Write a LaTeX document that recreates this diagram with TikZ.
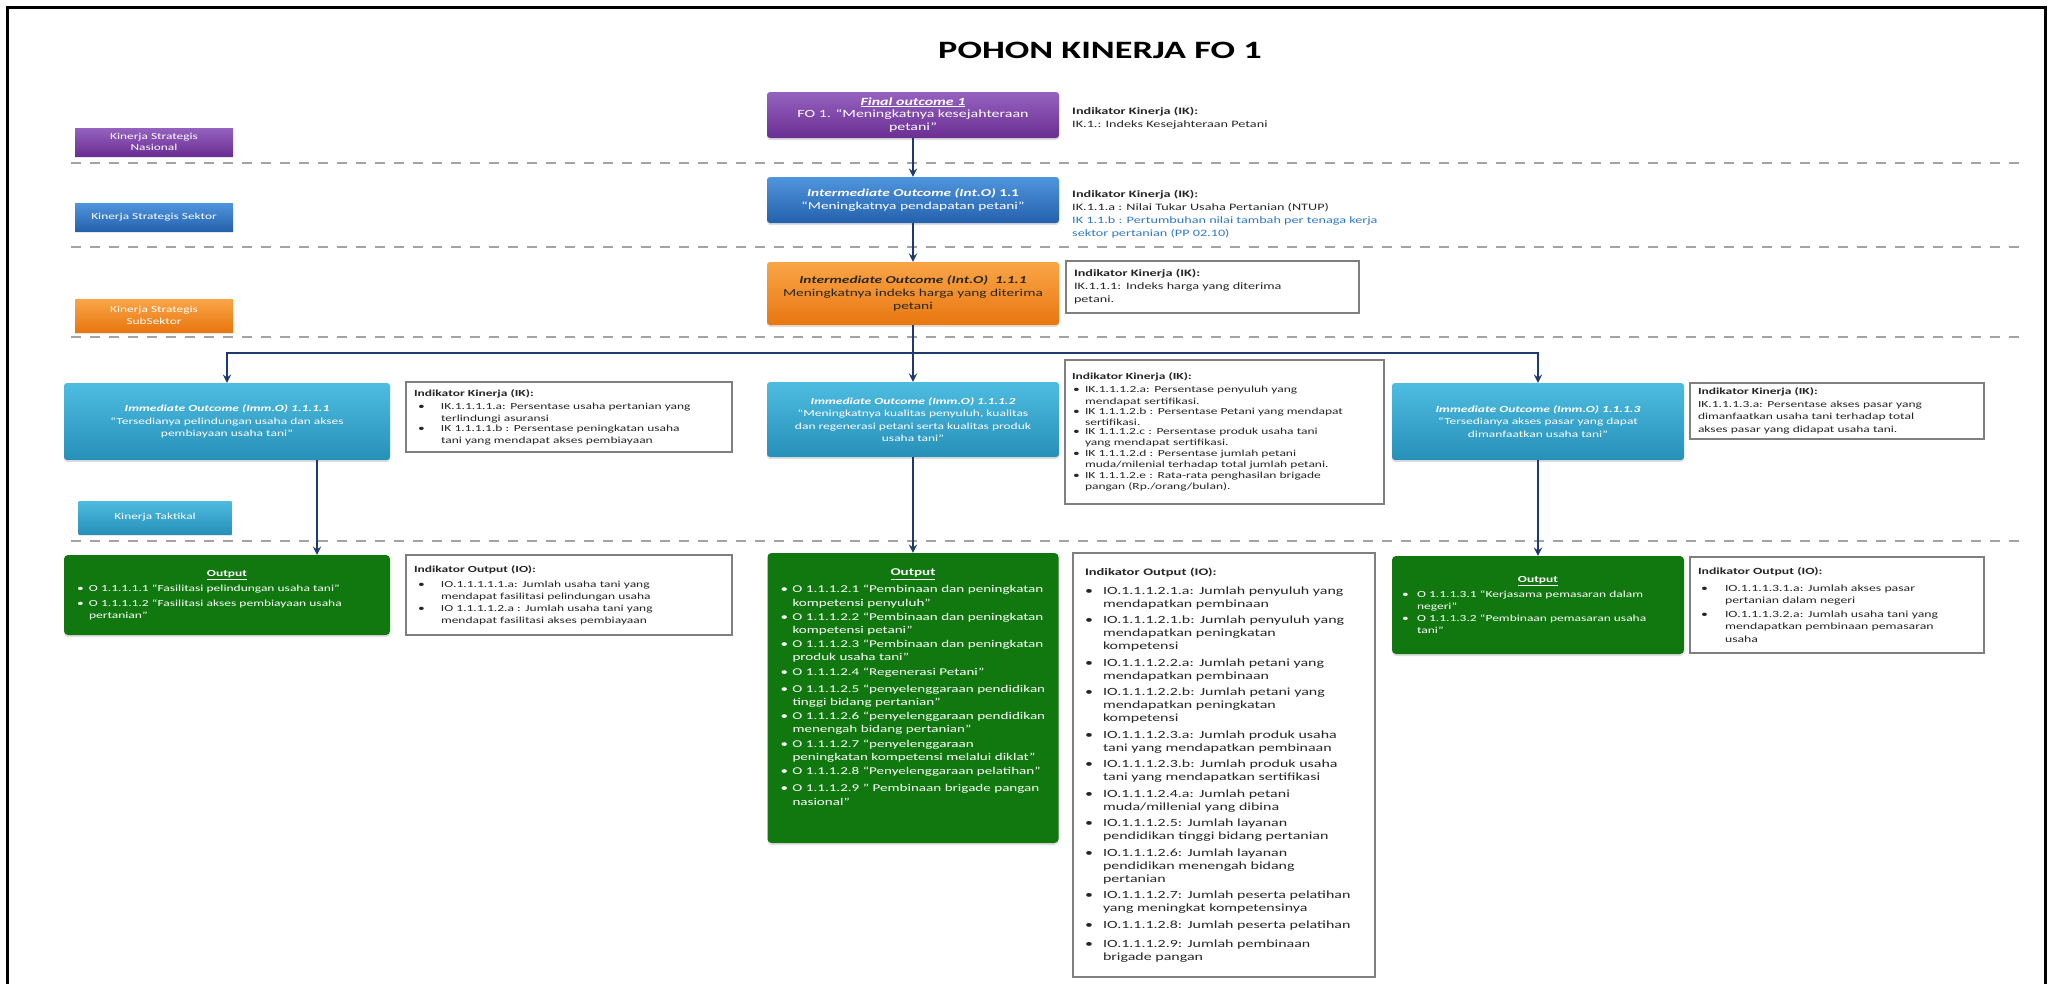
\documentclass[tikz,border=0pt]{standalone}
\usepackage{fontspec}
\setmainfont{Carlito}[FakeStretch=1.45]
\usetikzlibrary{shadows}
\definecolor{purA}{HTML}{9562BF}
\definecolor{purB}{HTML}{6B2E93}
\definecolor{bluA}{HTML}{4F95DD}
\definecolor{bluB}{HTML}{2561AD}
\definecolor{oraA}{HTML}{FAA548}
\definecolor{oraB}{HTML}{E8770F}
\definecolor{tealA}{HTML}{4EBCE1}
\definecolor{tealB}{HTML}{2790B8}
\definecolor{grn}{HTML}{10780F}
\definecolor{navy}{HTML}{1F3A70}
\definecolor{sepg}{HTML}{A3A3A3}
\definecolor{bd}{HTML}{7F7F7F}
\definecolor{tx}{HTML}{262626}
\definecolor{lblu}{HTML}{2F78C8}
\newcommand{\fs}[2]{\fontsize{#1}{#2}\selectfont}
\newlength{\bo}\newlength{\hi}
\newcommand{\itm}[1]{\par\noindent\hbox to\hi{\hskip\bo\textbullet\hfil}\parbox[t]{\dimexpr\hsize-\hi\relax}{\raggedright #1}}
\tikzset{lab/.style = {rectangle, text=white, align=center, font=\fs{9.2}{11.5}, minimum width=158pt, minimum height=28pt, inner sep=1pt,
                       drop shadow={opacity=0.2, shadow xshift=0pt, shadow yshift=-1.5pt}},
         cb/.style  = {rectangle, rounded corners=3pt, align=center, inner sep=2pt, text=white,
                       drop shadow={opacity=0.25, shadow xshift=0pt, shadow yshift=-2pt}},
         ind/.style = {rectangle, draw=bd, line width=1.2pt, fill=white, text=tx, align=left, inner xsep=8pt, inner ysep=3pt},
         ob/.style  = {rectangle, rounded corners=4pt, fill=grn, text=white, align=left, inner xsep=10pt, inner ysep=3pt,
                       drop shadow={opacity=0.25, shadow xshift=0pt, shadow yshift=-2pt}},
         txt/.style = {text=tx, align=left, inner sep=0pt},
         arr/.style = {->, draw=navy, line width=2.6pt},
         lvl/.style = {draw=sepg, line width=2pt, dash pattern=on 10pt off 9pt}}

\begin{document}
\begin{tikzpicture}[x=1pt, y=-1pt, >=stealth]
    \useasboundingbox (0,0) rectangle (2054,983);
    \draw[line width=3pt] (7,995) -- (7,7) -- (2045,7) -- (2045,995);
    \node[font=\fs{25}{30}\bfseries] (title) at (1100,50) {POHON KINERJA FO 1};
    % levels
    \node[lab, top color=purA, bottom color=purB] (lnas) at (154,142) {Kinerja Strategis\\Nasional};
    \node[lab, top color=bluA, bottom color=bluB] (lsek) at (154,217) {Kinerja Strategis Sektor};
    \node[lab, top color=oraA, bottom color=oraB, minimum height=33pt] (lsub) at (154,315.5) {Kinerja Strategis\\SubSektor};
    \node[lab, top color=tealA, bottom color=tealB, minimum width=153pt, minimum height=33pt] (ltak) at (155,517.5) {Kinerja Taktikal};
    \foreach \y in {163,247,337,541} \draw[lvl] (71,\y) -- (2022,\y);
    % outcome boxes
    \node[cb, top color=purA, bottom color=purB, minimum width=292pt, minimum height=46pt, font=\fs{11}{12.8}] (fo) at (913,115)
        {\underline{\textbf{\textit{Final outcome 1}}}\\FO 1. “Meningkatnya kesejahteraan\\petani”};
    \node[cb, top color=bluA, bottom color=bluB, minimum width=292pt, minimum height=46pt, font=\fs{10.6}{13}] (io11) at (913,200)
        {\textbf{\textit{Intermediate Outcome (Int.O)}} \textbf{1.1}\\“Meningkatnya pendapatan petani”};
    \node[cb, top color=oraA, bottom color=oraB, text=tx, minimum width=292pt, minimum height=63pt, font=\fs{10.6}{12.8}] (io111) at (913,293.5)
        {\textbf{\textit{Intermediate Outcome (Int.O)~~1.1.1}}\\Meningkatnya indeks harga yang diterima\\petani};
    \node[cb, top color=tealA, bottom color=tealB, minimum width=326pt, minimum height=77pt, font=\fs{9.3}{12.5}] (imm1) at (227,421.5)
        {\textbf{\textit{Immediate Outcome (Imm.O) 1.1.1.1}}\\“Tersedianya pelindungan usaha dan akses\\pembiayaan usaha tani”};
    \node[cb, top color=tealA, bottom color=tealB, minimum width=292pt, minimum height=75pt, font=\fs{9.3}{12.5}] (imm2) at (913,419.5)
        {\textbf{\textit{Immediate Outcome (Imm.O) 1.1.1.2}}\\“Meningkatnya kualitas penyuluh, kualitas\\dan regenerasi petani serta kualitas produk\\usaha tani”};
    \node[cb, top color=tealA, bottom color=tealB, minimum width=292pt, minimum height=77pt, font=\fs{9.3}{12.5}] (imm3) at (1538,421.5)
        {\textbf{\textit{Immediate Outcome (Imm.O) 1.1.1.3}}\\“Tersedianya akses pasar yang dapat\\dimanfaatkan usaha tani”};
    % indicators
    \node[txt, anchor=west, font=\fs{9.8}{12.5}] (ikfo) at (1072,118)
        {\textbf{Indikator Kinerja (IK):}\\IK.1.: Indeks Kesejahteraan Petani};
    \node[txt, anchor=west, font=\fs{9.8}{13}] (ikio11) at (1072,214)
        {\textbf{Indikator Kinerja (IK):}\\IK.1.1.a : Nilai Tukar Usaha Pertanian (NTUP)\\\textcolor{lblu}{IK 1.1.b : Pertumbuhan nilai tambah per tenaga kerja}\\\textcolor{lblu}{sektor pertanian (PP 02.10)}};
    \node[ind, minimum width=293pt, minimum height=52pt, text width=277pt, font=\fs{9.8}{13}] (ikio111) at (1212.5,287)
        {\textbf{Indikator Kinerja (IK):}\\IK.1.1.1: Indeks harga yang diterima\\petani.};
    \node[ind, minimum width=326pt, minimum height=70pt, text width=310pt, font=\fs{9.3}{12}] (ik1) at (569,417)
        {\setlength{\bo}{4pt}\setlength{\hi}{27pt}\setlength{\parskip}{1pt}\textbf{Indikator Kinerja (IK):}
         \itm{IK.1.1.1.1.a: Persentase usaha pertanian yang\\terlindungi asuransi}
         \itm{IK 1.1.1.1.b : Persentase peningkatan usaha\\tani yang mendapat akses pembiayaan}};
    \node[ind, minimum width=319pt, minimum height=144pt, text width=305pt, inner xsep=7pt, font=\fs{9.3}{11.4}] (ik2) at (1224.5,432)
        {\setlength{\bo}{1pt}\setlength{\hi}{13pt}\setlength{\parskip}{1.3pt}\textbf{Indikator Kinerja (IK):}
         \itm{IK.1.1.1.2.a: Persentase penyuluh yang\\mendapat sertifikasi.}
         \itm{IK 1.1.1.2.b : Persentase Petani yang mendapat\\sertifikasi.}
         \itm{IK 1.1.1.2.c : Persentase produk usaha tani\\yang mendapat sertifikasi.}
         \itm{IK 1.1.1.2.d : Persentase jumlah petani\\muda/milenial terhadap total jumlah petani.}
         \itm{IK 1.1.1.2.e : Rata-rata penghasilan brigade\\pangan (Rp./orang/bulan).}};
    \node[ind, minimum width=294pt, minimum height=56pt, text width=278pt, font=\fs{9.3}{12.5}] (ik3) at (1837,411)
        {\textbf{Indikator Kinerja (IK):}\\IK.1.1.1.3.a: Persentase akses pasar yang\\dimanfaatkan usaha tani terhadap total\\akses pasar yang didapat usaha tani.};
    % outputs
    \node[ob, minimum width=326pt, minimum height=80pt, text width=300pt, inner xsep=13pt, font=\fs{9.3}{12}] (out1) at (227,595)
        {\setlength{\bo}{0pt}\setlength{\hi}{12pt}\setlength{\parskip}{3pt}\noindent\makebox[\hsize]{\underline{\textbf{Output}}}
         \itm{O 1.1.1.1.1 “Fasilitasi pelindungan usaha tani”}
         \itm{O 1.1.1.1.2 “Fasilitasi akses pembiayaan usaha\\pertanian”}};
    \node[ob, minimum width=291pt, minimum height=290pt, text width=265pt, inner xsep=13pt, font=\fs{10.4}{13.2}] (out2) at (913,698)
        {\setlength{\bo}{0pt}\setlength{\hi}{12pt}\setlength{\parskip}{4pt}\noindent\makebox[\hsize]{\underline{\textbf{Output}}}
         \itm{O 1.1.1.2.1 “Pembinaan dan peningkatan\\kompetensi penyuluh”}
         \itm{O 1.1.1.2.2 “Pembinaan dan peningkatan\\kompetensi petani”}
         \itm{O 1.1.1.2.3 “Pembinaan dan peningkatan\\produk usaha tani”}
         \itm{O 1.1.1.2.4 “Regenerasi Petani”}
         \itm{O 1.1.1.2.5 “penyelenggaraan pendidikan\\tinggi bidang pertanian”}
         \itm{O 1.1.1.2.6 “penyelenggaraan pendidikan\\menengah bidang pertanian”}
         \itm{O 1.1.1.2.7 “penyelenggaraan\\peningkatan kompetensi melalui diklat”}
         \itm{O 1.1.1.2.8 “Penyelenggaraan pelatihan”}
         \itm{O 1.1.1.2.9 ” Pembinaan brigade pangan\\nasional”}\par\vspace*{22pt}};
    \node[ob, minimum width=292pt, minimum height=98pt, text width=272pt, font=\fs{9.3}{12}] (out3) at (1538,605)
        {\setlength{\bo}{0pt}\setlength{\hi}{15pt}\setlength{\parskip}{3pt}\noindent\makebox[\hsize]{\underline{\textbf{Output}}}
         \itm{O 1.1.1.3.1 “Kerjasama pemasaran dalam\\negeri”}
         \itm{O 1.1.1.3.2 “Pembinaan pemasaran usaha\\tani”}};
    \node[ind, minimum width=326pt, minimum height=80pt, text width=310pt, font=\fs{9.3}{12}] (io1) at (569,595)
        {\setlength{\bo}{4pt}\setlength{\hi}{27pt}\setlength{\parskip}{3pt}\textbf{Indikator Output (IO):}
         \itm{IO.1.1.1.1.1.a: Jumlah usaha tani yang\\mendapat fasilitasi pelindungan usaha}
         \itm{IO 1.1.1.1.2.a : Jumlah usaha tani yang\\mendapat fasilitasi akses pembiayaan}};
    \node[ind, minimum width=302pt, minimum height=424pt, text width=278pt, inner xsep=12pt, font=\fs{11}{13.2}] (io2) at (1224,765)
        {\setlength{\bo}{0pt}\setlength{\hi}{18pt}\setlength{\parskip}{5.8pt}{\fs{10}{13}\textbf{Indikator Output (IO):}}
         \itm{IO.1.1.1.2.1.a: Jumlah penyuluh yang\\mendapatkan pembinaan}
         \itm{IO.1.1.1.2.1.b: Jumlah penyuluh yang\\mendapatkan peningkatan\\kompetensi}
         \itm{IO.1.1.1.2.2.a: Jumlah petani yang\\mendapatkan pembinaan}
         \itm{IO.1.1.1.2.2.b: Jumlah petani yang\\mendapatkan peningkatan\\kompetensi}
         \itm{IO.1.1.1.2.3.a: Jumlah produk usaha\\tani yang mendapatkan pembinaan}
         \itm{IO.1.1.1.2.3.b: Jumlah produk usaha\\tani yang mendapatkan sertifikasi}
         \itm{IO.1.1.1.2.4.a: Jumlah petani\\muda/millenial yang dibina}
         \itm{IO.1.1.1.2.5: Jumlah layanan\\pendidikan tinggi bidang pertanian}
         \itm{IO.1.1.1.2.6: Jumlah layanan\\pendidikan menengah bidang\\pertanian}
         \itm{IO.1.1.1.2.7: Jumlah peserta pelatihan\\yang meningkat kompetensinya}
         \itm{IO.1.1.1.2.8: Jumlah peserta pelatihan}
         \itm{IO.1.1.1.2.9: Jumlah pembinaan\\brigade pangan}};
    \node[ind, minimum width=294pt, minimum height=96pt, text width=278pt, font=\fs{9.5}{12.5}] (io3) at (1837,605)
        {\setlength{\bo}{3pt}\setlength{\hi}{27pt}\setlength{\parskip}{4pt}\textbf{Indikator Output (IO):}
         \itm{IO.1.1.1.3.1.a: Jumlah akses pasar\\pertanian dalam negeri}
         \itm{IO.1.1.1.3.2.a: Jumlah usaha tani yang\\mendapatkan pembinaan pemasaran\\usaha}};
    % connectors
    \coordinate (br) at (913,353);
    \draw[arr] (fo) -- (io11);
    \draw[arr] (io11) -- (io111);
    \draw[arr] (io111) -- (imm2);
    \draw[arr] (br) -| (imm1);
    \draw[arr] (br) -| (imm3);
    \draw[arr] ([xshift=90pt]imm1.south) -- ([xshift=90pt]out1.north);
    \draw[arr] (imm2) -- (out2);
    \draw[arr] (imm3) -- (out3);
\end{tikzpicture}
\end{document}
